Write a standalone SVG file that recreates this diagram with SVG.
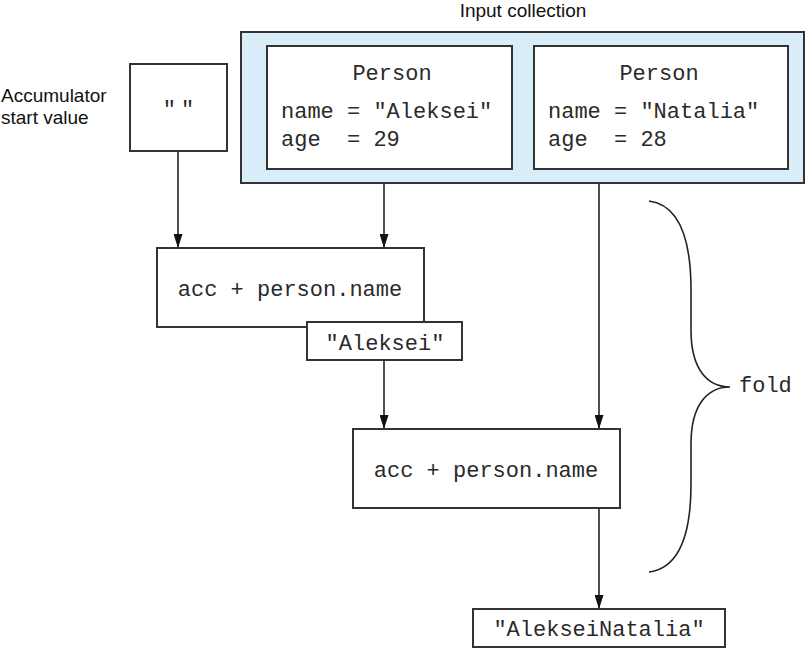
<svg xmlns="http://www.w3.org/2000/svg" width="806" height="648" viewBox="0 0 806 648">
<defs>
<marker id="arr" viewBox="0 0 10 10" refX="10" refY="5" markerWidth="14" markerHeight="9" markerUnits="userSpaceOnUse" orient="auto" preserveAspectRatio="none">
<path d="M0,0 L10,5 L0,10 Z" fill="#111"/>
</marker>
<style>
.box{fill:#fff;stroke:#333;stroke-width:2}
.mono{font-family:"Liberation Mono","Courier New",monospace;font-size:22px;fill:#2a2a2a}
.sans{font-family:"Liberation Sans",Arial,sans-serif;font-size:19px;fill:#111}
.conn{stroke:#222;stroke-width:1.6;fill:none}
</style>
</defs>
<rect width="806" height="648" fill="#fff"/>

<g id="input-collection">
<text class="sans" x="523" y="17" text-anchor="middle">Input collection</text>
<rect x="241" y="32" width="563" height="151" fill="#d9edf8" stroke="#333" stroke-width="2"/>
</g>
<g id="person1">
<rect class="box" x="267" y="46" width="245" height="123"/>
<text class="mono" x="392" y="80" text-anchor="middle">Person</text>
<text class="mono" x="281" y="118" xml:space="preserve">name = "Aleksei"</text>
<text class="mono" x="281" y="146" xml:space="preserve">age  = 29</text>
</g>
<g id="person2">
<rect class="box" x="534" y="46" width="254" height="123"/>
<text class="mono" x="659" y="80" text-anchor="middle">Person</text>
<text class="mono" x="548" y="118" xml:space="preserve">name = "Natalia"</text>
<text class="mono" x="548" y="146" xml:space="preserve">age  = 28</text>
</g>

<g id="accumulator-label">
<text class="sans" x="1" y="102">Accumulator</text>
<text class="sans" x="1" y="124">start value</text>
</g>
<g id="start-value">
<rect class="box" x="130" y="64" width="97" height="87"/>
<text class="mono" x="181" y="116" text-anchor="middle" letter-spacing="5">""</text>
</g>

<g id="connectors">
<line class="conn" x1="178" y1="152" x2="178" y2="248" marker-end="url(#arr)"/>
<line class="conn" x1="384" y1="184" x2="384" y2="248" marker-end="url(#arr)"/>
<line class="conn" x1="599" y1="184" x2="599" y2="429" marker-end="url(#arr)"/>
<line class="conn" x1="384" y1="361" x2="384" y2="429" marker-end="url(#arr)"/>
<line class="conn" x1="599" y1="509" x2="599" y2="609" marker-end="url(#arr)"/>
</g>

<g id="step1">
<rect class="box" x="157" y="248" width="267" height="79"/>
<text class="mono" x="290" y="296" text-anchor="middle">acc + person.name</text>
</g>
<g id="result1">
<rect class="box" x="307" y="322" width="155" height="38"/>
<text class="mono" x="385" y="350" text-anchor="middle">"Aleksei"</text>
</g>
<g id="step2">
<rect class="box" x="353" y="429" width="267" height="79"/>
<text class="mono" x="486" y="477" text-anchor="middle">acc + person.name</text>
</g>
<g id="result2">
<rect class="box" x="473" y="609" width="252" height="38"/>
<text class="mono" x="599" y="636" text-anchor="middle">"AlekseiNatalia"</text>
</g>

<g id="fold">
<path class="conn" d="M649,201 C680,205 691,240 691,290 L691,330 C691,370 708,387 730,387 C708,387 691,404 691,444 L691,484 C691,534 680,568 649,572"/>
<text class="mono" x="739" y="392">fold</text>
</g>
</svg>
